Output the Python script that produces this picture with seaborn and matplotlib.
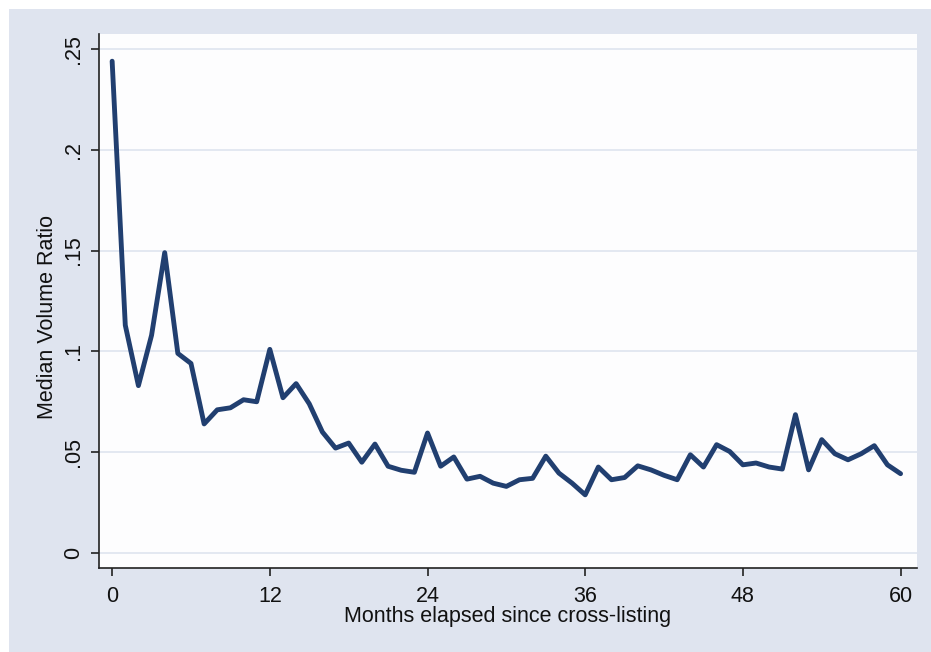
import numpy as np
import pandas as pd
import matplotlib
matplotlib.use("Agg")
import matplotlib.pyplot as plt
import seaborn as sns
from matplotlib.patches import Rectangle

# median volume ratio by month since cross-listing
months = list(range(61))
ratio = [0.244, 0.113, 0.083, 0.108, 0.149, 0.099, 0.094, 0.064, 0.071, 0.072,
         0.076, 0.075, 0.101, 0.077, 0.084, 0.074, 0.060, 0.052, 0.0545, 0.045,
         0.054, 0.043, 0.041, 0.040, 0.0595, 0.043, 0.0476, 0.0366, 0.038, 0.0346,
         0.033, 0.0363, 0.037, 0.048, 0.0396, 0.0346, 0.0288, 0.0426, 0.0363, 0.0374,
         0.0432, 0.0412, 0.0385, 0.0363, 0.0487, 0.0426, 0.0537, 0.0503, 0.0437, 0.0446,
         0.0426, 0.0416, 0.0686, 0.0412, 0.0562, 0.0492, 0.0462, 0.0492, 0.0532, 0.0437,
         0.0393]
xticks = [0, 12, 24, 36, 48, 60]
yticks = [0, 0.05, 0.1, 0.15, 0.2, 0.25]
ytick_labels = ["0", ".05", ".1", ".15", ".2", ".25"]

df = pd.DataFrame({"month": months, "ratio": ratio})

sns.set_style("white")
plt.rcParams['font.family'] = ['Liberation Sans', 'DejaVu Sans']

bg = "#dfe4ef"
fig = plt.figure(figsize=(9.31, 6.52), dpi=100, facecolor="white")
# light frame around the graph region, thin white margin on top/left
fig.patches.append(Rectangle((9 / 931, 0), 1, 1 - 9 / 652, transform=fig.transFigure,
                             facecolor=bg, edgecolor="none", zorder=-10))

ax = fig.add_axes([99 / 931, 1 - 568 / 652, (917 - 99) / 931, (568 - 34) / 652])
ax.set_facecolor("#fdfdfe")

sns.lineplot(data=df, x="month", y="ratio", ax=ax, color="#213f70", linewidth=3.5,
             solid_joinstyle="round", solid_capstyle="round")

ax.set_xlim(-1.0, 61.25)
ax.set_ylim(-0.0075, 0.2575)
ax.set_xticks(xticks)
ax.set_yticks(yticks)
ax.set_yticklabels(ytick_labels, rotation=90, va="center")
ax.grid(axis="y", color="#e3e8f1", linewidth=1.4)
ax.set_axisbelow(True)

for s in ["top", "right"]:
    ax.spines[s].set_visible(False)
for s in ["left", "bottom"]:
    ax.spines[s].set_color("#222222")
    ax.spines[s].set_linewidth(1.2)

ax.tick_params(axis="both", direction="out", length=6, width=1.2, color="#222222",
               labelsize=15.5, labelcolor="#111111", left=True, bottom=True)
ax.tick_params(axis="y", pad=5)
ax.tick_params(axis="x", pad=7)

ax.set_xlabel("Months elapsed since cross-listing", fontsize=15.5, color="#111111")
ax.set_ylabel("Median Volume Ratio", fontsize=15.5, color="#111111")
ax.xaxis.set_label_coords(0.5, -0.072)
ax.yaxis.set_label_coords(-0.050, 0.47)

fig.savefig("out.png", dpi=100, facecolor=fig.get_facecolor())
